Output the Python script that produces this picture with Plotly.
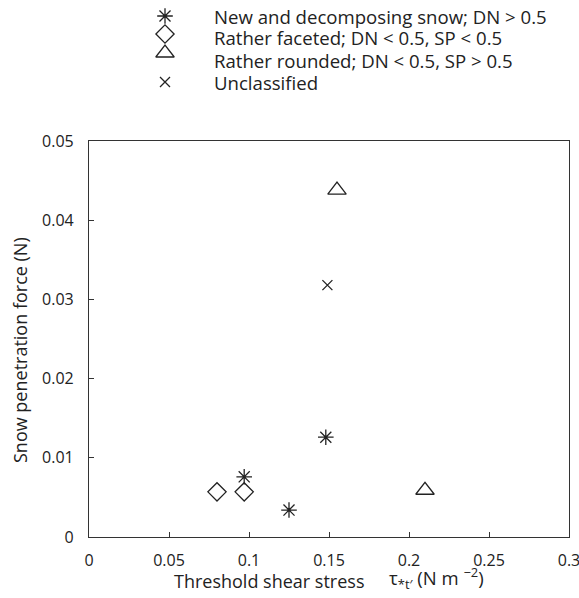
import plotly.graph_objects as go

# Data
new_x = [0.097, 0.125, 0.148]
new_y = [0.0076, 0.0034, 0.0126]
fac_x = [0.080, 0.097]
fac_y = [0.0057, 0.0057]
rnd_x = [0.155, 0.210]
rnd_y = [0.0438, 0.0059]
unc_x = [0.149]
unc_y = [0.0318]

names = ["New and decomposing snow; DN > 0.5",
         "Rather faceted; DN < 0.5, SP < 0.5",
         "Rather rounded; DN < 0.5, SP > 0.5",
         "Unclassified"]

x_ticks = [0, 0.05, 0.1, 0.15, 0.2, 0.25, 0.3]
x_ticktext = ["0", "0.05", "0.1", "0.15", "0.2", "0.25", "0.3"]
y_ticks = [0, 0.01, 0.02, 0.03, 0.04, 0.05]
y_ticktext = ["0", "0.01", "0.02", "0.03", "0.04", "0.05"]

W, H = 579, 598
# legend key layout (pixel positions in figure)
key_x = 165
key_rows = [16, 34, 53, 82]
text_rows = [17, 38, 60, 82]
text_x = 212

col = "#222222"
fnt = "Open Sans, Noto Sans, DejaVu Sans"

styles = [
    dict(symbol="asterisk-open", size=13),
    dict(symbol="diamond-open", size=14),
    dict(symbol="triangle-up-open", size=16),
    dict(symbol="x-thin-open", size=10),
]
series = [(new_x, new_y), (fac_x, fac_y), (rnd_x, rnd_y), (unc_x, unc_y)]

fig = go.Figure()
for (sx, sy), st, nm in zip(series, styles, names):
    fig.add_trace(go.Scatter(x=sx, y=sy, mode="markers", name=nm, showlegend=False,
                             marker=dict(symbol=st["symbol"], size=st["size"], color=col,
                                         line=dict(width=1.3, color=col))))
# legend keys on a pixel-overlay axis
for i, st in enumerate(styles):
    fig.add_trace(go.Scatter(x=[key_x], y=[key_rows[i]], mode="markers", showlegend=False,
                             xaxis="x2", yaxis="y2", hoverinfo="skip", cliponaxis=False,
                             marker=dict(symbol=st["symbol"], size=st["size"], color=col,
                                         line=dict(width=1.3, color=col))))
    fig.add_annotation(x=text_x / W, y=1 - text_rows[i] / H, xref="paper", yref="paper",
                       text=names[i], showarrow=False, xanchor="left", yanchor="middle",
                       font=dict(family=fnt, size=18.6, color="#222"))

axis_common = dict(showline=True, mirror=True, linecolor="#333", linewidth=1.2,
                   ticks="inside", ticklen=5, tickcolor="#333", showgrid=False,
                   zeroline=False, automargin=False, ticklabeloverflow="allow",
                   tickfont=dict(family=fnt, size=16, color="#222"))

fig.update_layout(
    width=W, height=H,
    margin=dict(l=0, r=0, t=0, b=0, autoexpand=False),
    paper_bgcolor="white", plot_bgcolor="rgba(0,0,0,0)",
    font=dict(family=fnt, size=16, color="#222"),
    showlegend=False,
    xaxis=dict(domain=[89 / W, 569 / W], range=[0, 0.3], tickvals=x_ticks,
               ticktext=x_ticktext, ticklabelstandoff=9, **axis_common),
    yaxis=dict(domain=[(H - 537) / H, (H - 141) / H], range=[0, 0.05], tickvals=y_ticks,
               ticktext=y_ticktext, ticklabelstandoff=11, **axis_common),
    xaxis2=dict(domain=[0, 1], range=[0, W], visible=False, anchor="y2"),
    yaxis2=dict(domain=[0, 1], range=[H, 0], visible=False, anchor="x2"),
)

fig.add_annotation(x=20 / W, y=1 - 350 / H, xref="paper", yref="paper", showarrow=False,
                   textangle=-90, xanchor="center", yanchor="middle",
                   text="Snow penetration force (N)",
                   font=dict(family=fnt, size=18, color="#222"))
fig.add_annotation(x=172 / W, y=1 - 581 / H, xref="paper", yref="paper", showarrow=False,
                   xanchor="left", yanchor="middle",
                   text="Threshold shear stress",
                   font=dict(family=fnt, size=18, color="#222"))
fig.add_annotation(x=387 / W, y=1 - 578 / H, xref="paper", yref="paper", showarrow=False,
                   xanchor="left", yanchor="middle",
                   text="τ<sub>*t′</sub> (N m <sup>−2</sup>)",
                   font=dict(family=fnt, size=18.5, color="#222"))

fig.write_html("out.html")
